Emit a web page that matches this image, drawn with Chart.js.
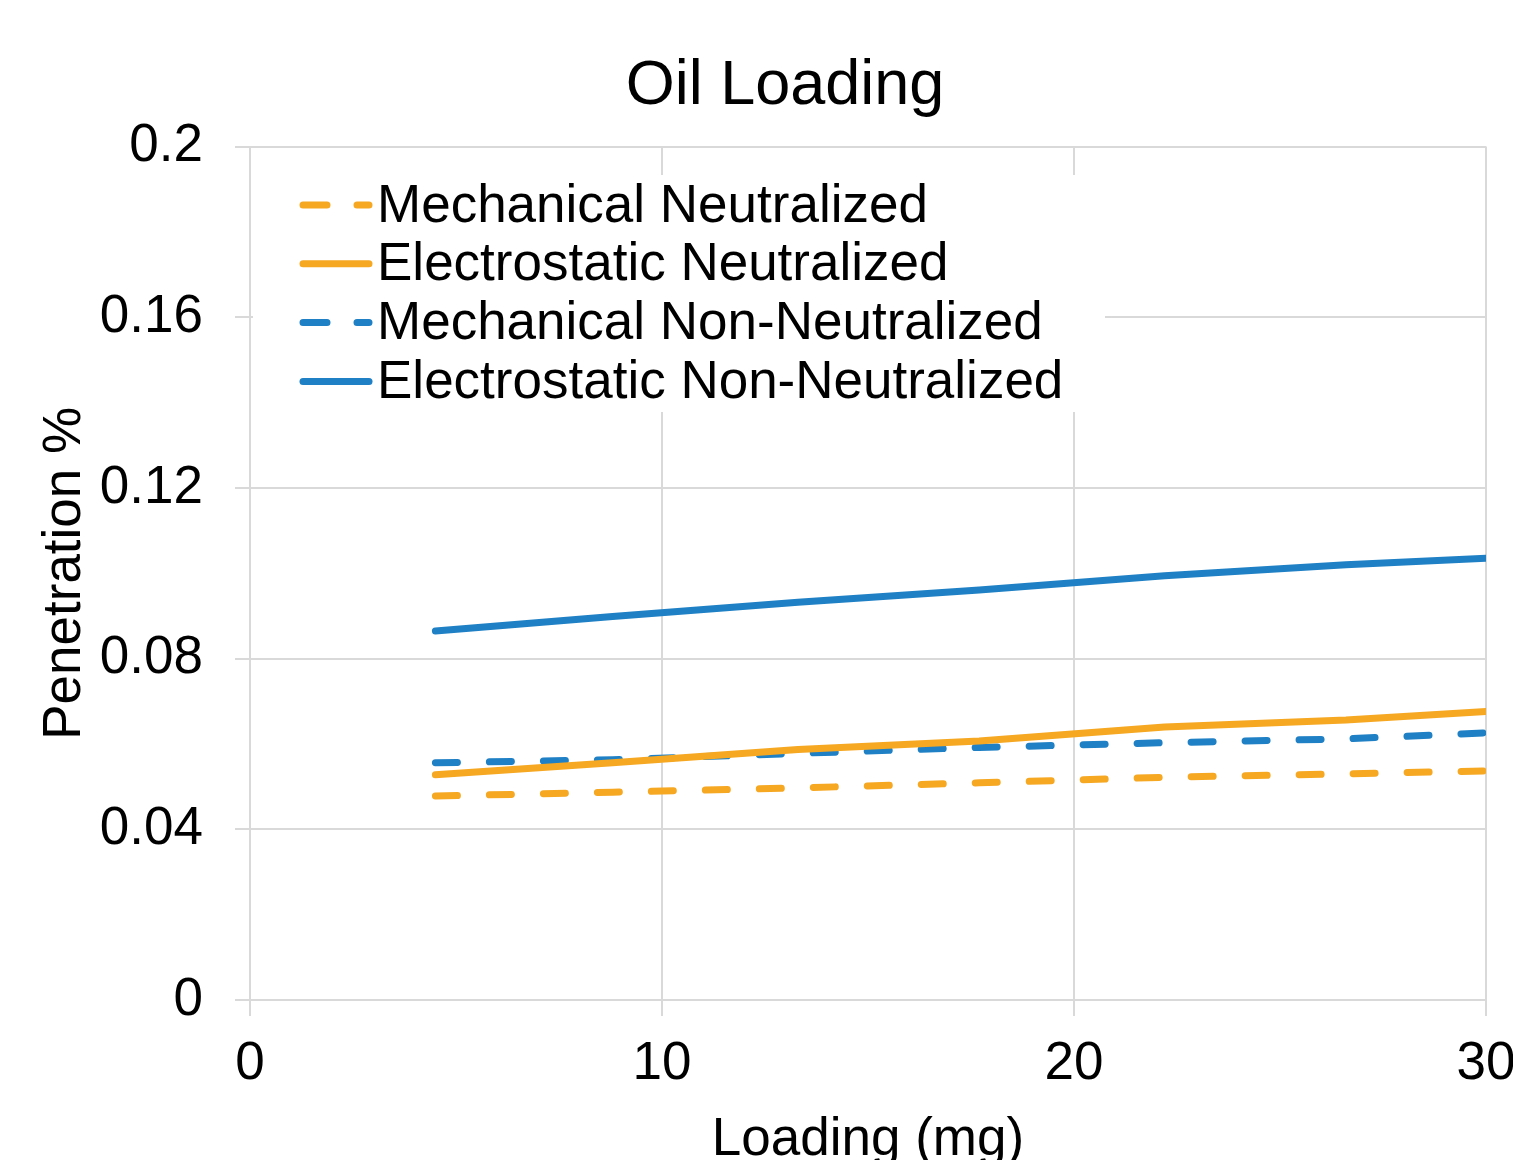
<!DOCTYPE html>
<html>
<head>
<meta charset="utf-8">
<title>Oil Loading</title>
<script src="https://cdn.jsdelivr.net/npm/chart.js@4.4.1/dist/chart.umd.min.js"></script>
<style>
  body { margin: 0; background: #fff; }
  #wrap { width: 1513px; height: 1160px; }
</style>
</head>
<body>
<div id="wrap"><canvas id="oilChart" width="1513" height="1160"></canvas></div>
<script>
// loading points (mg) and penetration values
const loadingMg = [4.5, 8.8, 13.3, 17.7, 22.2, 26.6, 30];
const mechanicalNeutralized = [0.0478, 0.0487, 0.0497, 0.0509, 0.0522, 0.0530, 0.0537];
const electrostaticNeutralized = [0.0528, 0.0556, 0.0587, 0.0607, 0.0640, 0.0656, 0.0676];
const mechanicalNonNeutralized = [0.0556, 0.0563, 0.0578, 0.0592, 0.0603, 0.0612, 0.0626];
const electrostaticNonNeutralized = [0.0865, 0.0899, 0.0932, 0.0961, 0.0994, 0.1020, 0.1035];

const xTicks = [0, 10, 20, 30];
const yTicks = [0, 0.04, 0.08, 0.12, 0.16, 0.2];
const yTickLabels = ['0', '0.04', '0.08', '0.12', '0.16', '0.2'];

const ORANGE = '#F6A823';
const BLUE = '#1F80C5';
const GRID = '#d9d9d9';
const FONT = '"Liberation Sans", Arial, sans-serif';

function toPoints(ys) {
    return ys.map((y, i) => ({ x: loadingMg[i], y: y }));
}

function series(label, ys, color, dashed) {
    return {
        label: label,
        data: toPoints(ys),
        borderColor: color,
        backgroundColor: color,
        borderWidth: 7,
        borderDash: dashed ? [22, 32] : [],
        borderCapStyle: 'round',
        borderJoinStyle: 'round',
        pointRadius: 0,
        tension: 0,
        fill: false
    };
}

// legend drawn inside the plot on a white box, like the original
const insideLegend = {
    id: 'insideLegend',
    beforeDatasetsDraw(chart) {
        const ctx = chart.ctx;
        const area = chart.chartArea;
        ctx.save();
        ctx.fillStyle = '#fff';
        ctx.fillRect(area.left + 3, 175, 852, 237);
        ctx.font = '53px ' + FONT;
        ctx.textBaseline = 'middle';
        ctx.textAlign = 'left';
        chart.data.datasets.forEach((ds, i) => {
            const y = 205 + i * 58.8;
            ctx.beginPath();
            ctx.strokeStyle = ds.borderColor;
            ctx.lineWidth = 7;
            ctx.lineCap = 'round';
            ctx.setLineDash(ds.borderDash.length ? [24, 30] : []);
            ctx.moveTo(303, y);
            ctx.lineTo(369, y);
            ctx.stroke();
            ctx.setLineDash([]);
            ctx.fillStyle = '#000';
            ctx.fillText(ds.label, 377, y + 2);
        });
        ctx.restore();
    }
};

const ctx = document.getElementById('oilChart').getContext('2d');
new Chart(ctx, {
    type: 'line',
    data: {
        datasets: [
            series('Mechanical Neutralized', mechanicalNeutralized, ORANGE, true),
            series('Electrostatic Neutralized', electrostaticNeutralized, ORANGE, false),
            series('Mechanical Non-Neutralized', mechanicalNonNeutralized, BLUE, true),
            series('Electrostatic Non-Neutralized', electrostaticNonNeutralized, BLUE, false)
        ]
    },
    plugins: [insideLegend],
    options: {
        responsive: false,
        animation: false,
        devicePixelRatio: 1,
        layout: { padding: { left: 57, right: 0, top: 0, bottom: 0 } },
        plugins: {
            legend: { display: false },
            tooltip: { enabled: false },
            title: {
                display: true,
                text: 'Oil Loading',
                color: '#000',
                font: { family: FONT, size: 63, weight: 'normal', lineHeight: 1.2 },
                padding: { top: 49, bottom: 22 }
            }
        },
        scales: {
            x: {
                type: 'linear',
                min: 0,
                max: 30,
                afterBuildTicks: s => { s.ticks = xTicks.map(v => ({ value: v })); },
                afterFit: s => { s.height = 160; s.paddingRight = 27; s.paddingLeft = 0; },
                grid: { color: GRID, lineWidth: 2, tickLength: 16, tickColor: GRID },
                border: { color: GRID, width: 2 },
                ticks: {
                    color: '#000',
                    font: { family: FONT, size: 53 },
                    padding: 17,
                    maxRotation: 0
                },
                title: {
                    display: true,
                    text: 'Loading (mg)',
                    color: '#000',
                    font: { family: FONT, size: 53, lineHeight: 0.75 },
                    padding: 0
                }
            },
            y: {
                min: 0,
                max: 0.2,
                afterBuildTicks: s => { s.ticks = yTicks.map(v => ({ value: v })); },
                afterFit: s => { s.width = 193; },
                grid: { color: GRID, lineWidth: 2, tickLength: 15, tickColor: GRID },
                border: { color: GRID, width: 2 },
                ticks: {
                    color: '#000',
                    font: { family: FONT, size: 53 },
                    padding: 32,
                    callback: (v, i) => yTickLabels[i]
                },
                title: {
                    display: true,
                    text: 'Penetration %',
                    color: '#000',
                    font: { family: FONT, size: 53, lineHeight: 1 },
                    padding: { top: -18, bottom: 0 }
                }
            }
        }
    }
});
</script>
</body>
</html>
